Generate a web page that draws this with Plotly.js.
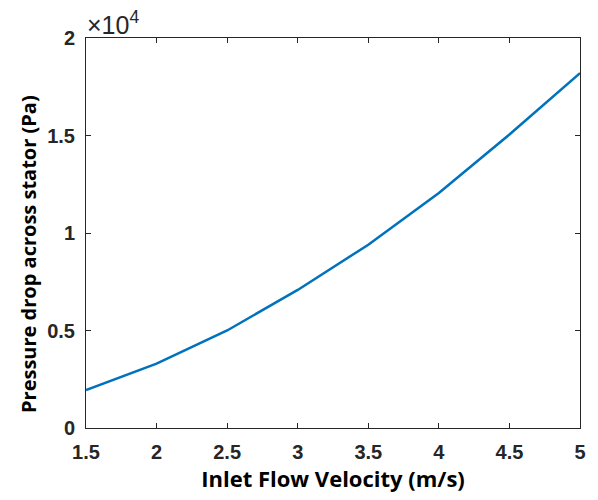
<!DOCTYPE html>
<html>
<head>
<meta charset="utf-8">
<script src="https://cdn.plot.ly/plotly-3.0.1.min.js"></script>
<style>html,body{margin:0;padding:0;background:#fff;}#chart{width:598px;height:500px;}</style>
</head>
<body>
<div id="chart"></div>
<script>
const velocity = [1.5, 2, 2.5, 3, 3.5, 4, 4.5, 5];
const pressureDrop = [1950, 3300, 5000, 7080, 9400, 12050, 15050, 18200];
const xTicks = [1.5, 2, 2.5, 3, 3.5, 4, 4.5, 5];
const yTickVals = [0, 5000, 10000, 15000, 20000];
const yTickText = ['0', '0.5', '1', '1.5', '2'];

const tickFont = {family: 'Liberation Sans', size: 20, color: '#262626', weight: 700};

const trace = {
  x: velocity, y: pressureDrop, type: 'scatter', mode: 'lines',
  line: {color: '#0072BD', width: 2.5}, hoverinfo: 'skip'
};

const layout = {
  width: 598, height: 500,
  margin: {l: 86, r: 18, t: 38, b: 72},
  paper_bgcolor: '#fff', plot_bgcolor: '#fff',
  showlegend: false,
  xaxis: {
    range: [1.5, 5], tickvals: xTicks, ticktext: xTicks.map(String),
    ticks: 'inside', ticklen: 5, tickwidth: 1, tickcolor: '#262626',
    showline: true, linecolor: '#262626', linewidth: 1, mirror: 'ticks',
    showgrid: false, zeroline: false, tickfont: tickFont, ticklabelstandoff: 6,
    title: {text: 'Inlet Flow Velocity (m/s)', font: {family: 'Open Sans', size: 22, color: '#000', weight: 700}, standoff: 4}
  },
  yaxis: {
    range: [0, 20000], tickvals: yTickVals, ticktext: yTickText,
    ticks: 'inside', ticklen: 5, tickwidth: 1, tickcolor: '#262626',
    showline: true, linecolor: '#262626', linewidth: 1, mirror: 'ticks',
    showgrid: false, zeroline: false, tickfont: tickFont, ticklabelstandoff: 6
  },
  annotations: [{
    text: '×10<sup>4</sup>', xref: 'paper', yref: 'paper', x: 0, y: 1,
    xanchor: 'left', yanchor: 'bottom', showarrow: false, xshift: -1, yshift: -3,
    font: {family: 'Liberation Sans', size: 25, color: '#262626'}
  }, {
    text: 'Pressure drop across stator (Pa)', xref: 'paper', yref: 'paper', x: 0, y: 0.5,
    xanchor: 'center', yanchor: 'middle', textangle: -90, showarrow: false, xshift: -58, yshift: -21,
    font: {family: 'Open Sans', size: 20, color: '#000', weight: 700}
  }]
};

Plotly.newPlot('chart', [trace], layout, {displayModeBar: false, staticPlot: true});
</script>
</body>
</html>
